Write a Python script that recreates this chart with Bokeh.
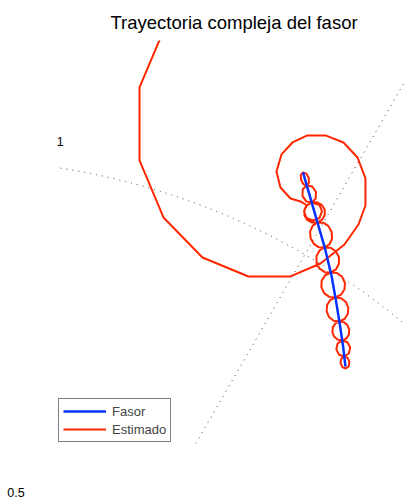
import math
from bokeh.plotting import figure
from bokeh.models import Range1d, Label, Legend, LegendItem
from bokeh.embed import file_html
from bokeh.resources import INLINE

# ---- data (complex plane: real / imaginary parts) ----
fasor_re = [0.4972, 0.5127, 0.5282, 0.5374, 0.5437, 0.5494, 0.5536, 0.5571]
fasor_im = [0.9817, 0.9281, 0.8745, 0.8364, 0.8011, 0.7659, 0.7377, 0.7080]

est_re = [
    0.3244, 0.2666, 0.2666, 0.3004, 0.3554, 0.4203, 0.4796, 0.5219, 0.5557, 0.5755,
    0.5853, 0.5853, 0.5741, 0.5543, 0.5289, 0.5035, 0.4824, 0.4669, 0.4598, 0.4654,
    0.4796, 0.4937,
    0.5021, 0.4986, 0.5021, 0.5113, 0.5205, 0.5240, 0.5205,
    0.5095, 0.5151, 0.5155, 0.5103, 0.5025,
    0.5056, 0.5053, 0.5018, 0.4972,
    0.4941, 0.4945, 0.4979, 0.5025,
    0.4968, 0.4965, 0.5017, 0.5095,
    0.5171, 0.5238, 0.5278, 0.5279, 0.5242, 0.5176,
    0.5258, 0.5331, 0.5376, 0.5382, 0.5346, 0.5278,
    0.5363, 0.5436, 0.5479, 0.5479, 0.5437, 0.5364,
    0.5451, 0.5524, 0.5563, 0.5558, 0.5509, 0.5430,
    0.5511, 0.5577, 0.5611, 0.5604, 0.5558, 0.5485,
    0.5547, 0.5598, 0.5624, 0.5619, 0.5583, 0.5526,
    0.5599, 0.5638, 0.5619, 0.5554,
    0.5602, 0.5627, 0.5616, 0.5574,
    0.5527, 0.5501, 0.5513, 0.5554,
    0.5481, 0.5442, 0.5461, 0.5526,
    0.5464, 0.5413, 0.5387, 0.5393, 0.5429, 0.5485,
    0.5405, 0.5339, 0.5305, 0.5312, 0.5357, 0.5430,
    0.5343, 0.5270, 0.5231, 0.5236, 0.5285, 0.5364,
    0.5279, 0.5206, 0.5163, 0.5163, 0.5205, 0.5278,
    0.5197, 0.5124, 0.5078, 0.5073, 0.5109, 0.5176,
    0.5100, 0.5033, 0.4993, 0.4992, 0.5029, 0.5095,
]
est_im = [
    1.2384, 1.1016, 0.9986, 0.9182, 0.8618, 0.8350, 0.8350, 0.8533, 0.8801, 0.9083,
    0.9351, 0.9732, 1.0028, 1.0240, 1.0339, 1.0339, 1.0240, 1.0071, 0.9831, 0.9605,
    0.9450, 0.9408,
    0.9358, 0.9267, 0.9175, 0.9140, 0.9175, 0.9267, 0.9358,
    0.9394, 0.9448, 0.9541, 0.9618, 0.9633,
    0.9671, 0.9741, 0.9801, 0.9817,
    0.9779, 0.9709, 0.9649, 0.9633,
    0.9579, 0.9486, 0.9409, 0.9394,
    0.9395, 0.9359, 0.9294, 0.9218, 0.9151, 0.9111,
    0.9109, 0.9060, 0.8978, 0.8884, 0.8804, 0.8759,
    0.8755, 0.8704, 0.8621, 0.8528, 0.8449, 0.8406,
    0.8398, 0.8345, 0.8261, 0.8169, 0.8093, 0.8054,
    0.8043, 0.7990, 0.7909, 0.7821, 0.7750, 0.7715,
    0.7706, 0.7664, 0.7599, 0.7530, 0.7474, 0.7447,
    0.7423, 0.7347, 0.7263, 0.7221,
    0.7202, 0.7144, 0.7082, 0.7052,
    0.7072, 0.7130, 0.7191, 0.7221,
    0.7246, 0.7322, 0.7405, 0.7447,
    0.7456, 0.7499, 0.7563, 0.7632, 0.7688, 0.7715,
    0.7725, 0.7778, 0.7860, 0.7948, 0.8018, 0.8054,
    0.8062, 0.8115, 0.8199, 0.8291, 0.8367, 0.8406,
    0.8411, 0.8461, 0.8544, 0.8637, 0.8716, 0.8759,
    0.8761, 0.8810, 0.8892, 0.8986, 0.9066, 0.9111,
    0.9110, 0.9146, 0.9211, 0.9287, 0.9354, 0.9394,
]

ring_values = [0.5, 1.0, 1.5]
labeled_rings = [0.5, 1.0]
spoke_angles_deg = [0, 30, 60, 90, 120, 150]
r_max = 1.5
label_angle_deg = 82
title_text = "Trayectoria compleja del fasor"

# visible window of the polar axes (data units): left and bottom limits
axes_x_start, axes_y_start = 0.1509, 0.5994

RED = "#ff2600"
BLUE = "#0433ff"
GRID = "#444444"
FONT = "Liberation Sans"

p = figure(width=405, height=500, output_backend="svg", toolbar_location=None,
           x_range=Range1d(0.0705, 0.6418), y_range=Range1d(0.5190, 1.1678),
           x_axis_location=None, y_axis_location=None,
           min_border_left=0, min_border_right=0, min_border_top=40, min_border_bottom=0,
           background_fill_color="white", border_fill_color="white")
p.outline_line_color = None
p.xgrid.visible = False
p.ygrid.visible = False

# polar grid, limited to the polar axes' visible window
arc_r = [r for r in ring_values if r > axes_x_start]
arc_end = [math.acos(axes_x_start / r) for r in arc_r]
p.arc(x=[0] * len(arc_r), y=[0] * len(arc_r), radius=arc_r,
      start_angle=[0] * len(arc_r), end_angle=arc_end,
      line_color=GRID, line_width=1, line_dash="1 5")

sx0, sy0, sx1, sy1 = [], [], [], []
for a in spoke_angles_deg:
    t = math.radians(a)
    c, s = math.cos(t), math.sin(t)
    if s > 1e-9:
        sx0.append(axes_y_start * c / s)
        sy0.append(axes_y_start)
    else:
        sx0.append(-r_max * c)
        sy0.append(-r_max * s)
    sx1.append(r_max * c)
    sy1.append(r_max * s)
p.segment(sx0, sy0, sx1, sy1, line_color=GRID, line_width=1, line_dash="1 5")

est = p.line(est_re, est_im, line_color=RED, line_width=2)
fas = p.line(fasor_re, fasor_im, line_color=BLUE, line_width=2.5)

rinc = ring_values[1] - ring_values[0]
ca = math.cos(math.radians(label_angle_deg))
sa = math.sin(math.radians(label_angle_deg))
for r in labeled_rings:
    rr = r + rinc / 20
    lab = Label(x=rr * ca, y=rr * sa, text=f"{r:g}", x_offset=5, y_offset=3,
                text_font=FONT, text_font_size="12.5px", text_color="black",
                text_baseline="bottom", text_align="left")
    p.add_layout(lab)

legend = Legend(items=[LegendItem(label="Fasor", renderers=[fas]),
                       LegendItem(label="Estimado", renderers=[est])],
                location=(58, 58))
legend.border_line_color = "black"
legend.border_line_width = 1
legend.background_fill_color = "white"
legend.background_fill_alpha = 1
legend.label_text_font = FONT
legend.label_text_font_size = "13px"
legend.glyph_width = 43
legend.glyph_height = 16
legend.label_height = 16
legend.label_standoff = 6
legend.padding = 4
legend.spacing = 2
legend.margin = 0
p.add_layout(legend)

p.title.text = title_text
p.title.text_font = FONT
p.title.text_font_size = "18.5px"
p.title.text_font_style = "normal"
p.title.align = "left"
p.title.offset = 110
p.title.standoff = 15
p.title.text_color = "black"

open("out.html", "w").write(file_html(p, INLINE))
